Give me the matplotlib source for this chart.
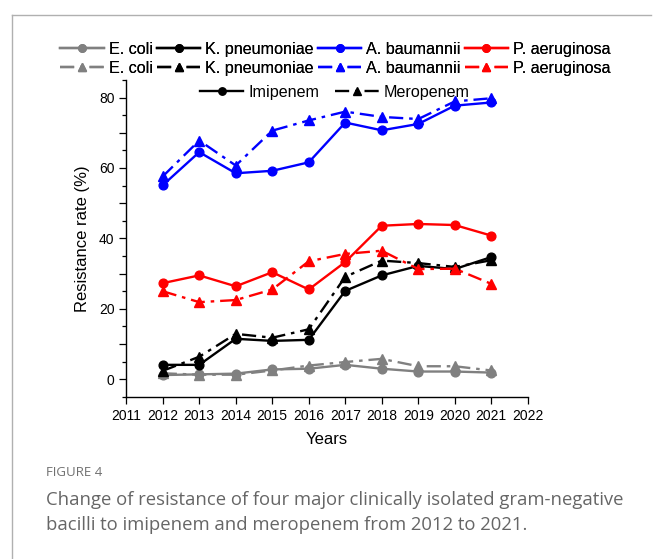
import matplotlib
matplotlib.use("Agg")
import matplotlib.pyplot as plt
from matplotlib.lines import Line2D
from matplotlib.ticker import MultipleLocator, FuncFormatter

plt.rcParams['font.family'] = ['Liberation Sans', 'DejaVu Sans']

years = [2012, 2013, 2014, 2015, 2016, 2017, 2018, 2019, 2020, 2021]
species = ["E. coli", "K. pneumoniae", "A. baumannii", "P. aeruginosa"]
colors = ["#808080", "#000000", "#0000ff", "#ff0000"]

imipenem = {
    "E. coli":       [1.2, 1.4, 1.6, 2.8, 3.0, 4.1, 3.0, 2.2, 2.2, 1.9],
    "K. pneumoniae": [4.1, 4.1, 11.5, 10.9, 11.2, 25.1, 29.5, 32.2, 31.3, 34.7],
    "A. baumannii":  [55.1, 64.5, 58.5, 59.2, 61.6, 72.9, 70.7, 72.5, 77.7, 78.6],
    "P. aeruginosa": [27.3, 29.5, 26.4, 30.4, 25.5, 33.3, 43.6, 44.1, 43.8, 40.8],
}
meropenem = {
    "E. coli":       [1.7, 1.3, 1.3, 2.5, 3.9, 4.9, 5.8, 3.7, 3.7, 2.5],
    "K. pneumoniae": [2.4, 6.4, 12.9, 11.8, 14.2, 29.1, 33.7, 33.0, 31.9, 33.8],
    "A. baumannii":  [57.6, 67.8, 60.7, 70.6, 73.5, 76.0, 74.5, 73.9, 78.9, 79.8],
    "P. aeruginosa": [25.0, 21.9, 22.5, 25.5, 33.5, 35.6, 36.5, 31.3, 31.4, 27.1],
}
xticks = list(range(2011, 2023))

DASHDOT = (0, (6, 2.5, 1.5, 2.5))

fig = plt.figure(figsize=(6.54, 5.59), dpi=100)
ax = fig.add_axes([0.193, 0.290, 0.614, 0.567])

handles = []
for sp, c in zip(species, colors):
    h1, = ax.plot(years, imipenem[sp], color=c, lw=1.7, marker='o', ms=6.3, label=sp)
    h2, = ax.plot(years, meropenem[sp], color=c, lw=1.7, ls=DASHDOT,
                  marker='^', ms=6.8, label=sp)
    handles += [h1, h2]

ax.set_xlim(2011, 2022)
ax.set_ylim(-5, 85)
ax.set_xticks(xticks)
ax.yaxis.set_major_locator(MultipleLocator(10))
ax.yaxis.set_minor_locator(MultipleLocator(5))
ax.yaxis.set_major_formatter(FuncFormatter(lambda v, p: f"{int(round(v))}" if int(round(v)) % 20 == 0 else ""))
ax.tick_params(axis='both', labelsize=10, width=0.9, length=5, color='black')
ax.tick_params(axis='y', which='minor', length=3, width=0.9)
for s in ['top', 'right']:
    ax.spines[s].set_visible(False)
for s in ['left', 'bottom']:
    ax.spines[s].set_linewidth(1.0)
ax.set_xlabel("Years", fontsize=12, labelpad=7)
ax.set_ylabel("Resistance rate (%)", fontsize=12, labelpad=6)

leg1 = fig.legend(handles=handles, labels=[h.get_label() for h in handles], ncol=4,
                  loc='center', bbox_to_anchor=(0.513, 0.895), frameon=False,
                  fontsize=11.6, handlelength=2.7, columnspacing=0.25, handletextpad=0.3,
                  labelspacing=0.25, borderpad=0, markerscale=0.85)
fig.add_artist(leg1)
drug_handles = [Line2D([], [], color='black', lw=1.7, marker='o', ms=6.3),
                Line2D([], [], color='black', lw=1.7, ls=DASHDOT, marker='^', ms=6.8)]
fig.legend(handles=drug_handles, labels=["Imipenem", "Meropenem"], ncol=2,
           loc='center', bbox_to_anchor=(0.512, 0.835), frameon=False,
           fontsize=11.6, handlelength=2.7, columnspacing=1.0, handletextpad=0.3,
           borderpad=0, markerscale=0.85)

# frame lines
fig.add_artist(Line2D([12/654, 12/654], [0, 1 - 15/559], transform=fig.transFigure,
                      color='#b0b0b0', lw=1.0))
fig.add_artist(Line2D([12/654, 651/654], [1 - 15/559, 1 - 15/559], transform=fig.transFigure,
                      color='#b0b0b0', lw=1.0))

cap_font = ['Open Sans', 'DejaVu Sans']
fig.text(46/654, 1 - 472/559, "FIGURE 4", fontsize=9.5, color='#707070', family=cap_font,
         va='center', ha='left')
fig.text(46/654, 1 - 500/559,
         "Change of resistance of four major clinically isolated gram-negative",
         fontsize=13.3, color='#666666', family=cap_font, va='center', ha='left')
fig.text(46/654, 1 - 525/559,
         "bacilli to imipenem and meropenem from 2012 to 2021.",
         fontsize=13.3, color='#666666', family=cap_font, va='center', ha='left')

fig.savefig("out.png", dpi=100)
